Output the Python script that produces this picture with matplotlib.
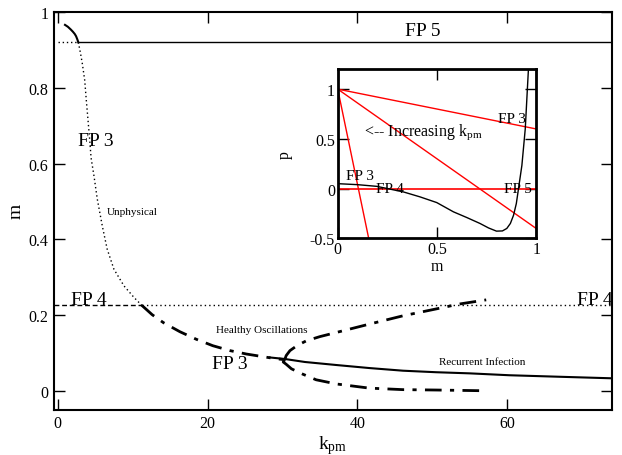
import matplotlib
matplotlib.use("Agg")
import matplotlib.pyplot as plt

plt.rcParams['font.family'] = ['Liberation Serif', 'DejaVu Serif']
plt.rcParams['mathtext.fontset'] = 'custom'
plt.rcParams['mathtext.rm'] = 'Liberation Serif'
plt.rcParams['mathtext.it'] = 'Liberation Serif'

# ---- main panel data ----
fp5_k = [2.75, 74]
fp5_m = [0.921, 0.921]
fp5_dot_k = [0.0, 2.75]
fp5_dot_m = [0.921, 0.921]

fp3_top_k = [0.97, 1.35, 1.73, 2.02, 2.27, 2.45, 2.61, 2.75]
fp3_top_m = [0.966, 0.961, 0.954, 0.948, 0.942, 0.936, 0.928, 0.920]

unphys_k = [2.75, 3.05, 3.28, 3.6, 3.81, 4.04, 4.27, 4.45, 4.84, 5.28, 5.95, 6.6, 7.5, 8.84, 10.2, 11.2]
unphys_m = [0.920, 0.89, 0.864, 0.82, 0.768, 0.715, 0.662, 0.615, 0.567, 0.506, 0.435, 0.374, 0.321, 0.277, 0.246, 0.226]

fp4_dash_k = [-0.5, 11.2]
fp4_dash_m = [0.226, 0.226]
fp4_dot_k = [11.2, 74]
fp4_dot_m = [0.226, 0.226]

healthy_k = [11.2, 12.6, 14.1, 16.3, 18.5, 20.7, 23.0, 25.2, 27.4, 29.0, 30.3]
healthy_m = [0.226, 0.201, 0.180, 0.156, 0.136, 0.119, 0.106, 0.097, 0.090, 0.085, 0.082]

recur_k = [28.3, 30.3, 33.0, 37.2, 41.6, 46.1, 50.5, 55.0, 60.3, 67.0, 73.9]
recur_m = [0.088, 0.084, 0.076, 0.068, 0.060, 0.053, 0.049, 0.046, 0.041, 0.037, 0.033]

lc_max_k = [30.3, 30.5, 31.0, 32.0, 33.2, 35.0, 37.2, 41.6, 46.1, 50.5, 53.6, 57.2]
lc_max_m = [0.082, 0.093, 0.106, 0.120, 0.132, 0.143, 0.154, 0.176, 0.198, 0.216, 0.229, 0.240]

lc_min_k = [30.3, 30.1, 30.5, 31.2, 32.7, 34.5, 37.2, 41.6, 46.1, 50.5, 57.2]
lc_min_m = [0.082, 0.076, 0.070, 0.058, 0.044, 0.029, 0.018, 0.007, 0.003, 0.002, 0.000]

main_xticks = [0, 20, 40, 60]
main_yticks = [0, 0.2, 0.4, 0.6, 0.8, 1]
main_yticklabels = ['0', '0.2', '0.4', '0.6', '0.8', '1']

# ---- inset data ----
red_m = [0.0, 1.0]
red1_p = [1.0, 0.6]
red2_p = [1.0, -0.4]
red_steep_m = [0.0, 0.156]
red_steep_p = [1.0, -0.5]
red0_p = [0.0, 0.0]

black_m = [0.0, 0.1, 0.197, 0.331, 0.415, 0.499, 0.583, 0.65, 0.717, 0.76, 0.80, 0.83, 0.852, 0.87, 0.886, 0.90, 0.911, 0.928, 0.945, 0.961]
black_p = [0.05, 0.04, 0.023, -0.033, -0.083, -0.14, -0.233, -0.29, -0.35, -0.395, -0.427, -0.425, -0.40, -0.35, -0.267, -0.15, 0.0, 0.233, 0.60, 1.2]

inset_xticks = [0, 0.5, 1]
inset_xticklabels = ['0', '0.5', '1']
inset_yticks = [-0.5, 0, 0.5, 1]
inset_yticklabels = ['-0.5', '0', '0.5', '1']

fig = plt.figure(figsize=(6.22, 4.56), dpi=100)
ax = fig.add_axes([0.0868, 0.0993, 0.8972, 0.8722])

dot = (0, (1, 2))
dashdot = (0, (6, 3, 1.5, 3))
ax.plot(fp5_k, fp5_m, color='black', lw=1.0)
ax.plot(fp5_dot_k, fp5_dot_m, color='black', lw=1.0, ls=dot)
ax.plot(fp3_top_k, fp3_top_m, color='black', lw=1.5)
ax.plot(unphys_k, unphys_m, color='black', lw=1.0, ls=dot)
ax.plot(fp4_dash_k, fp4_dash_m, color='black', lw=1.0, ls=(0, (3.5, 2)))
ax.plot(fp4_dot_k, fp4_dot_m, color='black', lw=1.0, ls=(0, (1, 2.2)))
ax.plot(healthy_k, healthy_m, color='black', lw=2.0, ls=dashdot)
ax.plot(recur_k, recur_m, color='black', lw=1.5)
ax.plot(lc_max_k, lc_max_m, color='black', lw=2.0, ls=dashdot)
ax.plot(lc_min_k, lc_min_m, color='black', lw=2.0, ls=dashdot)

ax.set_xlim(-0.5, 74)
ax.set_ylim(-0.05, 1.0)
ax.set_xticks(main_xticks)
ax.set_yticks(main_yticks)
ax.set_yticklabels(main_yticklabels)
ax.tick_params(direction='in', length=8, width=1.0, top=True, right=True,
               labelsize=11.5, pad=4)
for s in ax.spines.values():
    s.set_linewidth(1.5)
ax.set_xlabel(r'k$_{\mathrm{pm}}$', fontsize=14, labelpad=1)
ax.set_ylabel('m', fontsize=14, labelpad=3)

ax.text(48.7, 0.952, 'FP 5', fontsize=14, ha='center', va='center')
ax.text(5.1, 0.66, 'FP 3', fontsize=14, ha='center', va='center')
ax.text(9.9, 0.474, 'Unphysical', fontsize=8, ha='center', va='center')
ax.text(4.2, 0.242, 'FP 4', fontsize=14, ha='center', va='center')
ax.text(71.7, 0.242, 'FP 4', fontsize=14, ha='center', va='center')
ax.text(27.2, 0.162, 'Healthy Oscillations', fontsize=8, ha='center', va='center')
ax.text(23.0, 0.073, 'FP 3', fontsize=14, ha='center', va='center')
ax.text(56.7, 0.077, 'Recurrent Infection', fontsize=8, ha='center', va='center')

# ---- inset ----
ins = fig.add_axes([0.543, 0.475, 0.319, 0.371])
ins.plot(red_m, red1_p, color='red', lw=1.0)
ins.plot(red_m, red2_p, color='red', lw=1.0)
ins.plot(red_steep_m, red_steep_p, color='red', lw=1.0)
ins.plot(red_m, red0_p, color='red', lw=1.2)
ins.plot(black_m, black_p, color='black', lw=1.0)
ins.set_xlim(0, 1)
ins.set_ylim(-0.5, 1.2)
ins.set_xticks(inset_xticks)
ins.set_xticklabels(inset_xticklabels)
ins.set_yticks(inset_yticks)
ins.set_yticklabels(inset_yticklabels)
ins.tick_params(direction='in', length=8, width=1.0, top=True, right=True,
                labelsize=11.5, pad=2)
for s in ins.spines.values():
    s.set_linewidth(2.0)
ins.set_xlabel('m', fontsize=11.5)
ins.xaxis.set_label_coords(0.5, -0.115)
ins.set_ylabel('p', fontsize=11.5)
ins.yaxis.set_label_coords(-0.225, 0.5)
ins.text(0.88, 0.70, 'FP 3', fontsize=11, ha='center', va='center')
ins.text(0.134, 0.58, r'<-- Increasing k$_{\mathrm{pm}}$', fontsize=11.5, ha='left', va='center')
ins.text(0.11, 0.133, 'FP 3', fontsize=11, ha='center', va='center')
ins.text(0.265, 0.0, 'FP 4', fontsize=11, ha='center', va='center')
ins.text(0.907, 0.0, 'FP 5', fontsize=11, ha='center', va='center')

fig.savefig('out.png', dpi=100)
